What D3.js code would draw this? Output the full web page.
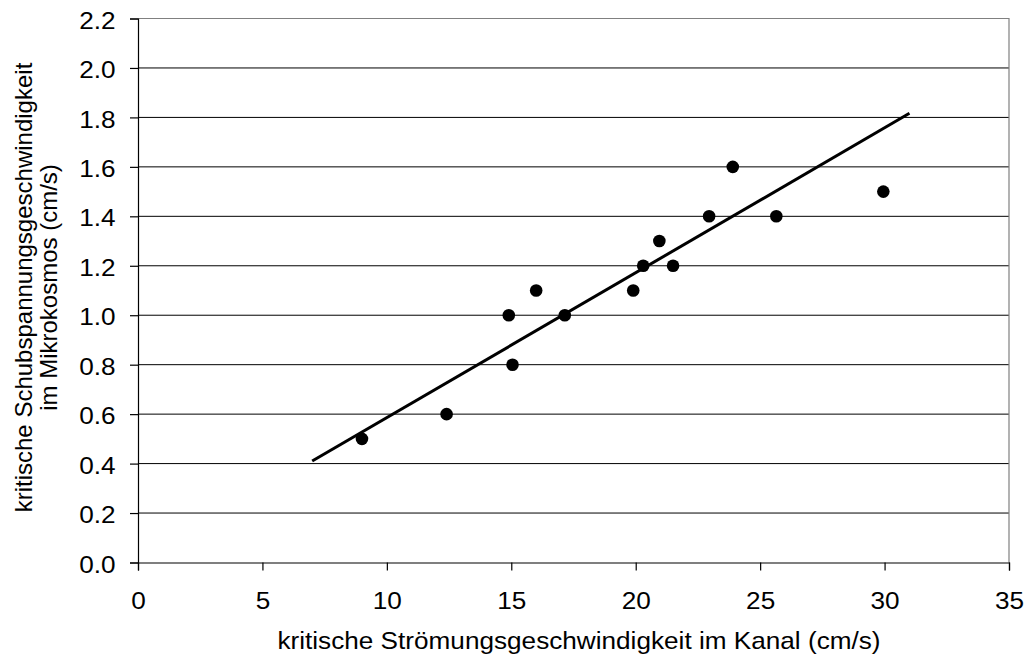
<!DOCTYPE html>
<html>
<head>
<meta charset="utf-8">
<script src="https://cdn.jsdelivr.net/npm/d3@7"></script>
<style>
  html, body { margin: 0; padding: 0; background: #fff; }
  svg { display: block; font-family: "Liberation Sans", Arial, sans-serif; }
</style>
</head>
<body>
<svg id="chart" width="1025" height="657"></svg>
<script>
// Critical flow velocity in the channel vs. critical shear velocity in the microcosm
const channelVelocity = [9.0, 12.4, 14.9, 15.05, 16.0, 17.15, 19.9, 20.3, 20.95, 21.5, 22.95, 23.9, 25.65, 29.95];
const shearVelocity   = [0.5, 0.6, 1.0, 0.8, 1.1, 1.0, 1.1, 1.2, 1.3, 1.2, 1.4, 1.6, 1.4, 1.5];

// Linear trend (through origin) drawn over this x range
const trendRange = [7, 31];
const trendSlope = 0.0586;

const xTicks = [0, 5, 10, 15, 20, 25, 30, 35];
const yTicks = [0.0, 0.2, 0.4, 0.6, 0.8, 1.0, 1.2, 1.4, 1.6, 1.8, 2.0, 2.2];

const xTitle = "kritische Strömungsgeschwindigkeit im Kanal (cm/s)";
const yTitleLines = ["kritische Schubspannungsgeschwindigkeit", "im Mikrokosmos (cm/s)"];

const FONT = "'Liberation Sans', Arial, sans-serif";
const FS = 24;
const SX = 1.09; // slightly wide lettering

const svg = d3.select("#chart");
const margin = { left: 138, top: 18.5, right: 1009, bottom: 562.5 };

const x = d3.scaleLinear().domain([0, 35]).range([margin.left, margin.right]);
const y = d3.scaleLinear().domain([0, 2.2]).range([margin.bottom, margin.top]);

// horizontal gridlines
svg.append("g")
  .selectAll("line")
  .data(yTicks.filter(t => t > 0 && t < 2.2))
  .join("line")
  .attr("x1", margin.left).attr("x2", margin.right)
  .attr("y1", d => y(d)).attr("y2", d => y(d))
  .attr("stroke", "#000").attr("stroke-width", 1);

// plot area border (top and right)
svg.append("path")
  .attr("d", `M${margin.left},${y(2.2)}H${margin.right}V${margin.bottom}`)
  .attr("fill", "none").attr("stroke", "#808080").attr("stroke-width", 1.2);

// y axis
const yAxis = d3.axisLeft(y).tickValues(yTicks).tickFormat(d3.format(".1f")).tickSize(8).tickPadding(14);
const gy = svg.append("g").attr("transform", `translate(${margin.left},0)`).call(yAxis);
gy.select(".domain").attr("stroke", "#000").attr("stroke-width", 1.2);
gy.selectAll(".tick line").attr("stroke", "#000").attr("stroke-width", 1.2);
gy.selectAll(".tick text")
  .attr("font-size", FS).attr("fill", "#000").attr("font-family", FONT)
  .attr("x", -22.5 / SX).attr("dy", "0.4em")
  .attr("transform", `scale(${SX},1)`);

// x axis
const xAxis = d3.axisBottom(x).tickValues(xTicks).tickFormat(d3.format("d")).tickSize(8).tickPadding(21);
const gx = svg.append("g").attr("transform", `translate(0,${margin.bottom})`).call(xAxis);
gx.select(".domain").attr("stroke", "#000").attr("stroke-width", 1.2);
gx.selectAll(".tick line").attr("stroke", "#000").attr("stroke-width", 1.2);
gx.selectAll(".tick text")
  .attr("font-size", FS).attr("fill", "#000").attr("font-family", FONT)
  .attr("transform", `scale(${SX},1)`);

// trend line
const trend = trendRange.map(v => [v, v * trendSlope]);
svg.append("path")
  .datum(trend)
  .attr("d", d3.line().x(d => x(d[0])).y(d => y(d[1])))
  .attr("stroke", "#000").attr("stroke-width", 3).attr("fill", "none");

// data points
svg.append("g")
  .selectAll("circle")
  .data(channelVelocity.map((v, i) => [v, shearVelocity[i]]))
  .join("circle")
  .attr("cx", d => x(d[0])).attr("cy", d => y(d[1]))
  .attr("r", 6.3).attr("fill", "#000");

// axis titles
svg.append("text")
  .attr("transform", `translate(579,649) scale(${SX},1)`)
  .attr("text-anchor", "middle").attr("font-size", FS).attr("fill", "#000")
  .text(xTitle);

const yt = svg.append("text")
  .attr("transform", `translate(31.5,287.5) rotate(-90)`)
  .attr("text-anchor", "middle").attr("font-size", FS).attr("fill", "#000");
yTitleLines.forEach((line, i) => {
  yt.append("tspan").attr("x", 0).attr("dy", i === 0 ? 0 : 25.5).text(line);
});
</script>
</body>
</html>
